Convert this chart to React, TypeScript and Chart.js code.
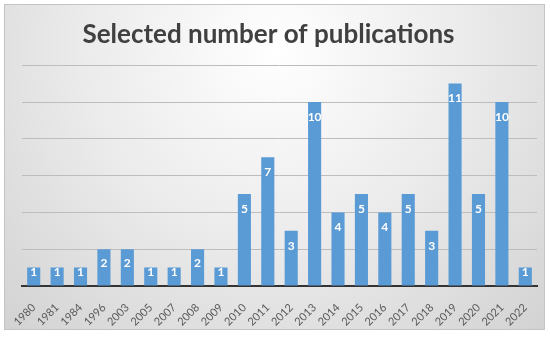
import React, { useEffect, useRef } from "react";
import { Chart, registerables } from "chart.js";

Chart.register(...registerables);

const categories = ["1980", "1981", "1984", "1996", "2003", "2005", "2007", "2008", "2009", "2010", "2011", "2012", "2013", "2014", "2015", "2016", "2017", "2018", "2019", "2020", "2021", "2022"];
const publications = [1, 1, 1, 2, 2, 1, 1, 2, 1, 5, 7, 3, 10, 4, 5, 4, 5, 3, 11, 5, 10, 1];
const titleText = "Selected number of publications";

const FONT = "Lato, 'Noto Sans', sans-serif";

const backgroundPlugin = {
  id: "frameBackground",
  beforeDraw(chart: any) {
    const { ctx, width, height } = chart;
    ctx.save();
    ctx.fillStyle = "#ffffff";
    ctx.fillRect(0, 0, width, height);
    const g = ctx.createRadialGradient(275, 50, 0, 275, 50, 430);
    g.addColorStop(0, "#ffffff");
    g.addColorStop(0.45, "#ebebeb");
    g.addColorStop(1, "#cdcdcd");
    ctx.fillStyle = g;
    ctx.fillRect(4, 4, 541, 326);
    ctx.strokeStyle = "#c4c4c4";
    ctx.lineWidth = 1;
    ctx.strokeRect(4.5, 4.5, 540, 325);
    ctx.restore();
  },
};

const labelPlugin = {
  id: "barLabels",
  afterDatasetsDraw(chart: any) {
    const { ctx } = chart;
    const meta = chart.getDatasetMeta(0);
    ctx.save();
    ctx.fillStyle = "#ffffff";
    ctx.font = "bold 12px " + FONT;
    ctx.textAlign = "center";
    ctx.textBaseline = "middle";
    meta.data.forEach((bar: any, i: number) => {
      const top = bar.y;
      const base = bar.base;
      const cy = Math.min(top + 15, (top + base) / 2 - 4);
      ctx.fillText(String(publications[i]), bar.x, cy);
    });
    ctx.restore();
  },
};

export default function App() {
  const ref = useRef<HTMLCanvasElement | null>(null);
  useEffect(() => {
    if (!ref.current) return;
    const chart = new Chart(ref.current, {
      type: "bar",
      data: {
        labels: categories,
        datasets: [
          {
            data: publications,
            backgroundColor: "#5b9bd5",
            categoryPercentage: 1,
            barPercentage: 0.56,
          },
        ],
      },
      options: {
        animation: false,
        responsive: false,
        maintainAspectRatio: false,
        layout: { padding: { left: 0, right: 13, top: 0, bottom: 0 } },
        plugins: {
          legend: { display: false },
          tooltip: { enabled: false },
          title: {
            display: true,
            text: titleText,
            color: "#404040",
            font: { family: FONT, size: 26, weight: "bold" },
            padding: { top: 19, bottom: 15 },
          },
        },
        scales: {
          x: {
            grid: { display: false },
            border: { display: true, color: "#333333", width: 2 },
            ticks: {
              color: "#595959",
              font: { family: FONT, size: 11 },
              minRotation: 45,
              maxRotation: 45,
              padding: 7,
              autoSkip: false,
            },
            afterFit(scale: any) {
              scale.height = 53;
            },
          },
          y: {
            min: 0,
            max: 12,
            ticks: { display: false, stepSize: 2 },
            border: { display: false },
            grid: {
              drawTicks: false,
              color: (c: any) => (c.tick && c.tick.value === 0 ? "rgba(0,0,0,0)" : "#bdbdbd"),
              lineWidth: 1,
            },
            afterFit(scale: any) {
              scale.width = 22;
            },
          },
        },
      },
      plugins: [backgroundPlugin, labelPlugin],
    });
    return () => chart.destroy();
  }, []);
  return (
    <div style={{ position: "absolute", left: 0, top: 0, width: 550, height: 339 }}>
      <canvas ref={ref} width={550} height={339} style={{ width: 550, height: 339 }} />
    </div>
  );
}
